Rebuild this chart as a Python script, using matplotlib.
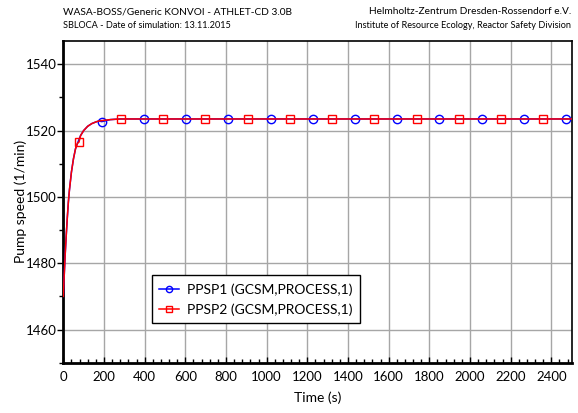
import matplotlib
matplotlib.use("Agg")
import matplotlib.pyplot as plt
from matplotlib.ticker import MultipleLocator

plt.rcParams['font.family'] = ['Lato', 'DejaVu Sans']

# start-up transient (s, 1/min), shared by both pumps
ramp_t = [0, 5, 10, 15, 20, 25, 30, 40, 50, 60, 70, 85, 100, 120, 140, 160, 175, 230, 280]
ramp_v = [1470.0, 1477.0, 1483.5, 1489.0, 1494.0, 1498.5, 1502.0, 1507.5, 1511.5,
          1514.5, 1516.2, 1518.5, 1520.0, 1521.3, 1522.1, 1522.6, 1522.9, 1523.3, 1523.5]

# marker samples for each pump
ppsp1_t = [189, 397, 604, 812, 1019, 1227, 1434, 1642, 1849, 2057, 2264, 2472]
ppsp1_v = [1522.7, 1523.5, 1523.5, 1523.5, 1523.5, 1523.5, 1523.5, 1523.5, 1523.5, 1523.5, 1523.5, 1523.5]
ppsp2_t = [77, 284, 492, 699, 907, 1114, 1322, 1529, 1737, 1944, 2152, 2359]
ppsp2_v = [1516.5, 1523.5, 1523.5, 1523.5, 1523.5, 1523.5, 1523.5, 1523.5, 1523.5, 1523.5, 1523.5, 1523.5]
end_t, end_v = 2500, 1523.5


def merge(mt, mv):
    pts = sorted(set(zip(ramp_t, ramp_v)) | set(zip(mt, mv)) | {(end_t, end_v)})
    t = [p[0] for p in pts]
    v = [p[1] for p in pts]
    idx = [t.index(x) for x in mt]
    return t, v, idx


fig = plt.figure(figsize=(5.78, 4.13), dpi=100)
ax = fig.add_axes([63.3 / 578, 1 - 362.7 / 413, 508.4 / 578, 322 / 413])

t1, v1, m1 = merge(ppsp1_t, ppsp1_v)
t2, v2, m2 = merge(ppsp2_t, ppsp2_v)
ax.plot(t1, v1, color='#0000ff', lw=1.1, marker='o', markevery=m1, ms=6,
        mfc='none', mec='#0000ff', mew=1.0, label='PPSP1 (GCSM,PROCESS,1)', zorder=3)
ax.plot(t2, v2, color='#ff0000', lw=1.1, marker='s', markevery=m2, ms=5.5,
        mfc='none', mec='#ff0000', mew=1.0, label='PPSP2 (GCSM,PROCESS,1)', zorder=4)

ax.set_xlim(0, 2500)
ax.set_ylim(1450, 1547.1)
ax.xaxis.set_major_locator(MultipleLocator(200))
ax.xaxis.set_minor_locator(MultipleLocator(40))
ax.yaxis.set_major_locator(MultipleLocator(20))
ax.yaxis.set_minor_locator(MultipleLocator(10))
ax.grid(True, which='major', color='#a6a6a6', lw=1.0)
ax.set_axisbelow(True)

ax.tick_params(axis='x', which='both', direction='in', labelsize=9.5, colors='black', pad=6)
ax.tick_params(axis='x', which='major', length=4, width=1)
ax.tick_params(axis='x', which='minor', length=3, width=1)
ax.tick_params(axis='y', which='both', direction='out', labelsize=9.5, pad=1)
ax.tick_params(axis='y', which='major', length=4, width=1)
ax.tick_params(axis='y', which='minor', length=3, width=1)
for side in ('left', 'bottom'):
    ax.spines[side].set_linewidth(2)
for side in ('top', 'right'):
    ax.spines[side].set_linewidth(1.2)

ax.set_xlabel('Time (s)', fontsize=10, labelpad=6)
ax.set_ylabel('Pump speed (1/min)', fontsize=10, labelpad=-1)

leg = ax.legend(loc='lower left', bbox_to_anchor=(0.174, 0.122), fontsize=10,
                frameon=True, fancybox=False, framealpha=1, edgecolor='black',
                borderpad=0.55, handlelength=1.4, handletextpad=0.6, labelspacing=0.55,
                borderaxespad=0, markerscale=0.75)
leg.get_frame().set_linewidth(1.0)

fig.text(63 / 578, 1 - 12 / 413, 'WASA-BOSS/Generic KONVOI - ATHLET-CD 3.0B',
         fontsize=7.3, va='center', ha='left')
fig.text(63 / 578, 1 - 26 / 413, 'SBLOCA - Date of simulation: 13.11.2015',
         fontsize=6.6, va='center', ha='left')
fig.text(571 / 578, 1 - 12 / 413, 'Helmholtz-Zentrum Dresden-Rossendorf e.V.',
         fontsize=7.3, va='center', ha='right')
fig.text(571 / 578, 1 - 26 / 413, 'Institute of Resource Ecology, Reactor Safety Division',
         fontsize=6.6, va='center', ha='right')

fig.savefig('out.png', dpi=100)
